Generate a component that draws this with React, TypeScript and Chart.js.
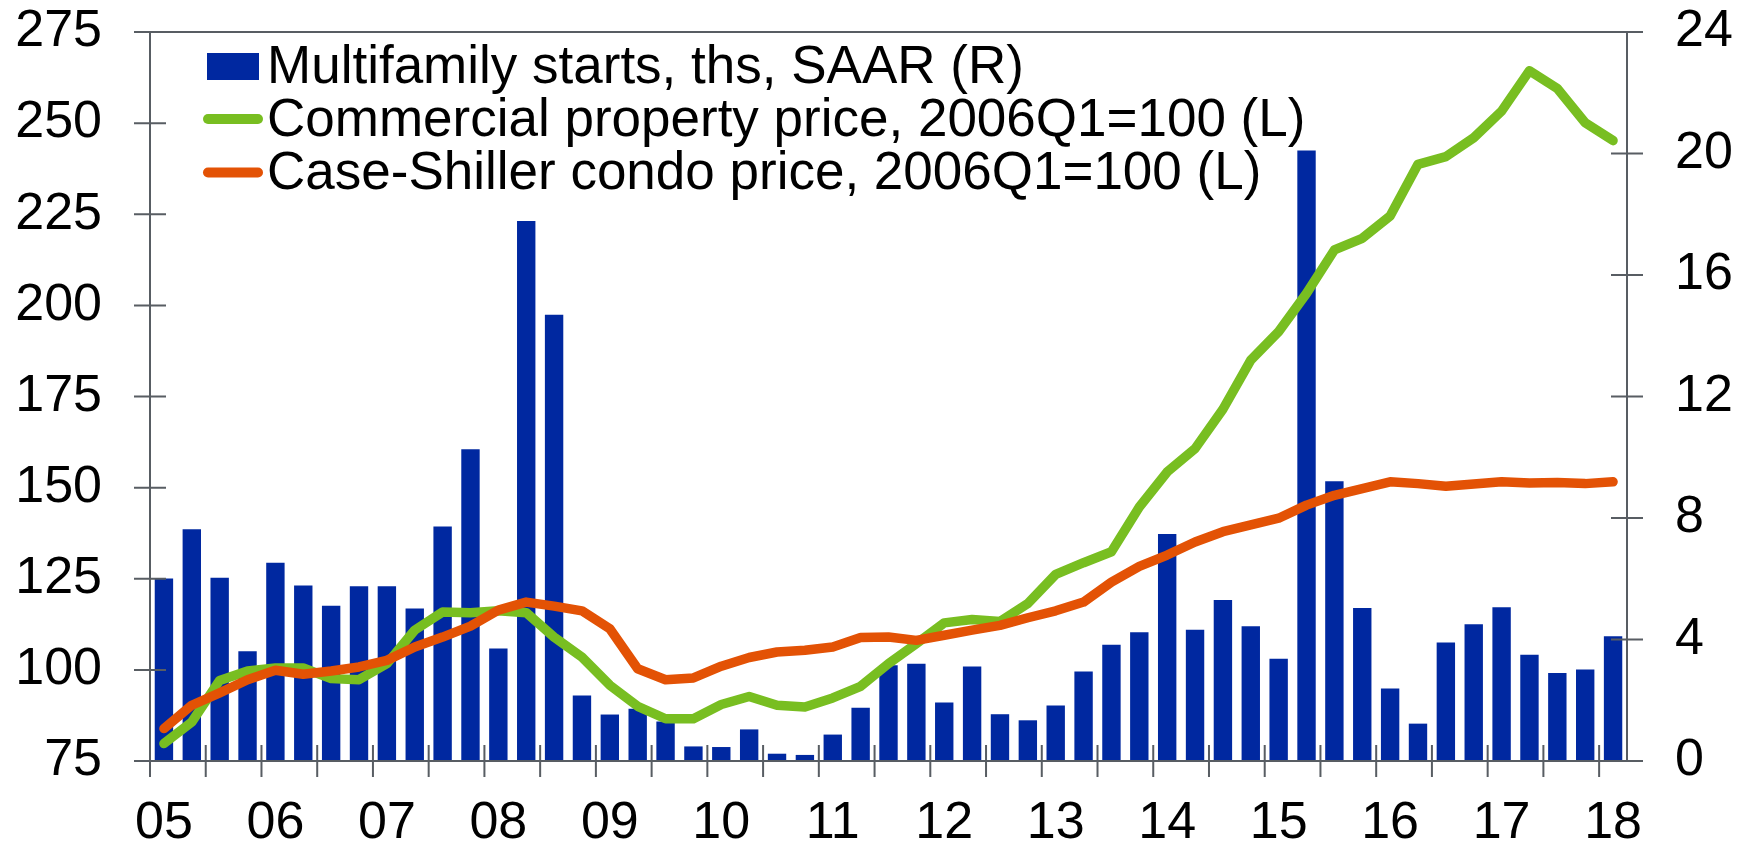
import React, { useEffect, useRef } from 'react';
import { Chart, registerables } from 'chart.js';

Chart.register(...registerables);

const FONT = '"Liberation Sans", Arial, Helvetica, sans-serif';

const categories = [
  '2005Q1', '2005Q2', '2005Q3', '2005Q4',
  '2006Q1', '2006Q2', '2006Q3', '2006Q4',
  '2007Q1', '2007Q2', '2007Q3', '2007Q4',
  '2008Q1', '2008Q2', '2008Q3', '2008Q4',
  '2009Q1', '2009Q2', '2009Q3', '2009Q4',
  '2010Q1', '2010Q2', '2010Q3', '2010Q4',
  '2011Q1', '2011Q2', '2011Q3', '2011Q4',
  '2012Q1', '2012Q2', '2012Q3', '2012Q4',
  '2013Q1', '2013Q2', '2013Q3', '2013Q4',
  '2014Q1', '2014Q2', '2014Q3', '2014Q4',
  '2015Q1', '2015Q2', '2015Q3', '2015Q4',
  '2016Q1', '2016Q2', '2016Q3', '2016Q4',
  '2017Q1', '2017Q2', '2017Q3', '2017Q4',
  '2018Q1',
];

const xTickLabels = ['05', '06', '07', '08', '09', '10', '11', '12', '13', '14', '15', '16', '17', '18'];

// Multifamily starts, ths, SAAR (right axis)
const multifamilyStarts = [
  6.01, 7.63, 6.03, 3.61, 6.53, 5.78, 5.11, 5.75, 5.75, 5.02,
  7.72, 10.26, 3.7, 17.78, 14.69, 2.16, 1.53, 1.72, 1.3, 0.48,
  0.46, 1.04, 0.24, 0.2, 0.87, 1.75, 3.15, 3.2, 1.93, 3.11,
  1.54, 1.34, 1.83, 2.95, 3.83, 4.24, 7.47, 4.32, 5.3, 4.44,
  3.37, 20.1, 9.21, 5.04, 2.39, 1.23, 3.9, 4.5, 5.06, 3.5,
  2.9, 3.01, 4.11,
];

// Commercial property price, 2006Q1=100 (left axis)
const commercialPrice = [
  79.8, 85.7, 97.1, 99.7, 100.5, 100.5, 97.6, 97.3, 101.7, 110.9,
  115.9, 115.7, 116.2, 115.7, 109.0, 103.5, 95.8, 90.0, 86.6, 86.6,
  90.5, 92.7, 90.3, 89.8, 92.3, 95.5, 101.7, 107.2, 112.9, 113.8,
  113.3, 118.2, 126.2, 129.4, 132.4, 144.7, 154.3, 160.7, 171.5, 185.0,
  192.8, 203.3, 215.2, 218.4, 224.5, 238.7, 240.8, 246.0, 253.3, 264.4,
  259.5, 250.1, 245.2,
];

// Case-Shiller condo price, 2006Q1=100 (left axis)
const condoPrice = [
  83.9, 90.3, 93.7, 97.3, 99.9, 98.8, 99.7, 100.8, 102.6, 106.3,
  109.0, 112.0, 116.4, 118.6, 117.5, 116.2, 111.3, 100.3, 97.3, 97.8,
  101.0, 103.4, 104.9, 105.4, 106.3, 108.9, 109.0, 108.1, 109.5, 110.9,
  112.2, 114.3, 116.2, 118.6, 124.1, 128.4, 131.5, 135.1, 137.9, 139.8,
  141.6, 145.2, 147.9, 149.7, 151.6, 151.1, 150.4, 151.0, 151.6, 151.3,
  151.4, 151.1, 151.6,
];

const seriesNames = [
  'Multifamily starts, ths, SAAR (R)',
  'Commercial property price, 2006Q1=100 (L)',
  'Case-Shiller condo price, 2006Q1=100 (L)',
];

const BLUE = '#0028A0';
const GREEN = '#78BE21';
const ORANGE = '#E35205';
const AXIS = '#585D63';

const axesPlugin = {
  id: 'customAxes',
  afterDatasetsDraw(chart: any) {
    const { ctx, chartArea } = chart;
    const x = chart.scales.x;
    const yL = chart.scales.yL;
    const yR = chart.scales.yR;
    const L = chartArea.left;
    const R = chartArea.right;
    const T = chartArea.top;
    const B = chartArea.bottom;
    const half = 16;
    ctx.save();
    ctx.strokeStyle = AXIS;
    ctx.lineWidth = 2;
    ctx.lineCap = 'butt';
    ctx.beginPath();
    ctx.moveTo(L - half, T);
    ctx.lineTo(R + half, T);
    ctx.moveTo(L - half, B);
    ctx.lineTo(R + half, B);
    ctx.moveTo(L, T);
    ctx.lineTo(L, B);
    ctx.moveTo(R, T);
    ctx.lineTo(R, B);
    yL.ticks.forEach((t: any) => {
      const py = yL.getPixelForValue(t.value);
      ctx.moveTo(L - half, py);
      ctx.lineTo(L + half, py);
    });
    yR.ticks.forEach((t: any) => {
      const py = yR.getPixelForValue(t.value);
      ctx.moveTo(R - half, py);
      ctx.lineTo(R + half, py);
    });
    const n = categories.length;
    const w = (R - L) / n;
    for (let k = 0; k < n; k += 2) {
      const px = x.getPixelForValue(k) - w / 2;
      ctx.moveTo(px, B - half);
      ctx.lineTo(px, B + half);
    }
    ctx.stroke();
    ctx.restore();
  },
};

const legendPlugin = {
  id: 'customLegend',
  afterDraw(chart: any) {
    const { ctx } = chart;
    ctx.save();
    ctx.font = `53px ${FONT}`;
    ctx.textAlign = 'left';
    ctx.textBaseline = 'alphabetic';
    const textX = 267;
    const baselines = [83, 136, 189];
    ctx.fillStyle = BLUE;
    ctx.fillRect(207, 53, 52, 27);
    ctx.lineCap = 'round';
    ctx.lineWidth = 10;
    ctx.strokeStyle = GREEN;
    ctx.beginPath();
    ctx.moveTo(208, 119);
    ctx.lineTo(258, 119);
    ctx.stroke();
    ctx.strokeStyle = ORANGE;
    ctx.beginPath();
    ctx.moveTo(208, 172.5);
    ctx.lineTo(258, 172.5);
    ctx.stroke();
    ctx.fillStyle = '#000';
    seriesNames.forEach((name, i) => {
      ctx.fillText(name, textX, baselines[i]);
    });
    ctx.restore();
  },
};

export default function App() {
  const ref = useRef<HTMLCanvasElement>(null);

  useEffect(() => {
    const canvas = ref.current;
    if (!canvas) return;
    const chart = new Chart(canvas, {
      type: 'bar',
      data: {
        labels: categories,
        datasets: [
          {
            type: 'line',
            label: seriesNames[2],
            data: condoPrice,
            yAxisID: 'yL',
            borderColor: ORANGE,
            backgroundColor: ORANGE,
            borderWidth: 9.5,
            pointRadius: 0,
            tension: 0,
            borderCapStyle: 'round',
            borderJoinStyle: 'round',
            order: 1,
          } as any,
          {
            type: 'line',
            label: seriesNames[1],
            data: commercialPrice,
            yAxisID: 'yL',
            borderColor: GREEN,
            backgroundColor: GREEN,
            borderWidth: 9.5,
            pointRadius: 0,
            tension: 0,
            borderCapStyle: 'round',
            borderJoinStyle: 'round',
            order: 2,
          } as any,
          {
            type: 'bar',
            label: seriesNames[0],
            data: multifamilyStarts,
            yAxisID: 'yR',
            backgroundColor: BLUE,
            borderWidth: 0,
            categoryPercentage: 1,
            barPercentage: 0.66,
            order: 3,
          } as any,
        ],
      },
      options: {
        animation: false,
        responsive: false,
        maintainAspectRatio: false,
        layout: { padding: { top: 32, left: 0, right: 0, bottom: 0 } },
        plugins: {
          legend: { display: false },
          tooltip: { enabled: false },
        },
        scales: {
          x: {
            type: 'category',
            offset: true,
            grid: { display: false, drawTicks: false },
            border: { display: false },
            ticks: {
              autoSkip: false,
              maxRotation: 0,
              minRotation: 0,
              padding: 31,
              color: '#000',
              font: { family: FONT, size: 52 },
              callback: (_v: any, i: number) => (i % 4 === 0 ? xTickLabels[i / 4] : ''),
            },
            afterFit: (s: any) => {
              s.height = 86;
              s.paddingLeft = 0;
              s.paddingRight = 0;
            },
          },
          yL: {
            type: 'linear',
            position: 'left',
            min: 75,
            max: 275,
            grid: { display: false, drawTicks: false },
            border: { display: false },
            ticks: {
              stepSize: 25,
              padding: 48,
              color: '#000',
              font: { family: FONT, size: 52 },
            },
            afterFit: (s: any) => {
              s.width = 150;
              s.paddingTop = 0;
              s.paddingBottom = 0;
            },
          },
          yR: {
            type: 'linear',
            position: 'right',
            min: 0,
            max: 24,
            grid: { display: false, drawTicks: false },
            border: { display: false },
            ticks: {
              stepSize: 4,
              padding: 48,
              color: '#000',
              font: { family: FONT, size: 52 },
            },
            afterFit: (s: any) => {
              s.width = 121;
              s.paddingTop = 0;
              s.paddingBottom = 0;
            },
          },
        },
      } as any,
      plugins: [axesPlugin, legendPlugin],
    });
    return () => chart.destroy();
  }, []);

  return (
    <div style={{ position: 'fixed', left: 0, top: 0, width: 1748, height: 847, background: '#ffffff' }}>
      <canvas ref={ref} width={1748} height={847} style={{ display: 'block', width: 1748, height: 847 }} />
    </div>
  );
}
